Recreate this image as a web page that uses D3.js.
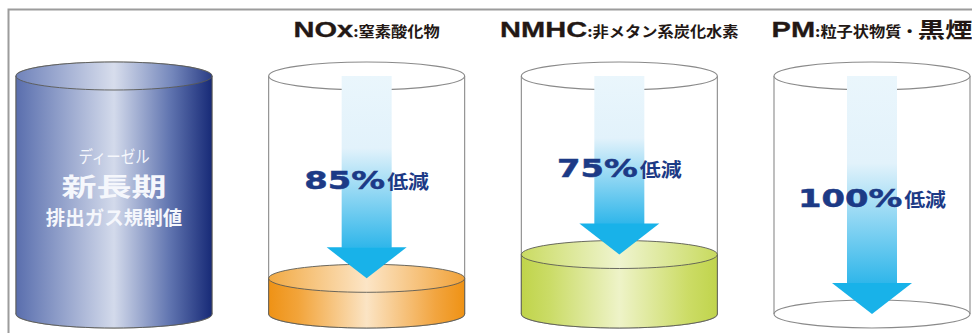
<!DOCTYPE html>
<html>
<head>
<meta charset="utf-8">
<script src="https://cdn.jsdelivr.net/npm/d3@7"></script>
<style>
  body { margin: 0; background: #fff; }
  svg { display: block; }
</style>
</head>
<body>
<div id="chart-area"></div>
<script>
//Data
var categories = ['ディーゼル新長期', 'NOx', 'NMHC', 'PM'];
var titleMain = ['', 'NOx', 'NMHC', 'PM'];
var titleSub = ['', ':窒素酸化物', ':非メタン系炭化水素', ':粒子状物質・'];
var titleExtra = ['', '', '', '黒煙'];
var reduction = [0, 85, 75, 100];          // % reduction from the regulation value
var baseLabel = ['ディーゼル', '新長期', '排出ガス規制値'];

var width = 972, height = 333;
var rx = 98, ry = 14;

//SVG
var svg = d3.select('#chart-area')
    .append('svg')
        .attr('width', width)
        .attr('height', height);
var defs = svg.append('defs');

//X Scale (cylinder centres)
var x = d3.scalePoint()
    .domain(categories)
    .range([114, 872]);

//Y Scale (0 = bottom of cylinder, 100 = brim)
var y = d3.scaleLinear()
    .domain([0, 100])
    .range([314, 76]);

//Gradients
function grad(id, stops, vertical) {
    var g = defs.append('linearGradient')
        .attr('id', id)
        .attr('x1', 0).attr('y1', 0)
        .attr('x2', vertical ? 0 : 1).attr('y2', vertical ? 1 : 0);
    stops.forEach(function(s){
        g.append('stop').attr('offset', s[0]).attr('stop-color', s[1]);
    });
}
grad('blueSide', [[0, '#5a6ead'], [0.08, '#6d80b8'], [0.5, '#d3daeb'], [0.78, '#6276b1'], [1, '#172a77']]);
grad('blueTop', [[0, '#7083bb'], [0.5, '#d7ddec'], [0.8, '#7386bb'], [1, '#2a3d85']]);
grad('orangeSide', [[0, '#ef9215'], [0.15, '#f2a43a'], [0.5, '#fbe4c4'], [0.85, '#f2a540'], [1, '#ef9214']]);
grad('orangeTop', [[0, '#f2aa44'], [0.5, '#fce5c6'], [1, '#f1a238']]);
grad('greenSide', [[0, '#c0d44a'], [0.15, '#cbdc68'], [0.5, '#eef3c8'], [0.85, '#ccdc66'], [1, '#c0d44c']]);
grad('greenTop', [[0, '#cadb62'], [0.5, '#eff4cf'], [1, '#c8da5e']]);
grad('arrowShaft', [[0, '#eaf6fc'], [0.42, '#e2f2fb'], [1, '#2fb6ea']], true);

var fills = [
    {side: 'url(#blueSide)', top: 'url(#blueTop)'},
    {side: 'url(#orangeSide)', top: 'url(#orangeTop)'},
    {side: 'url(#greenSide)', top: 'url(#greenTop)'},
    null
];

//Frame
svg.append('path')
    .attr('d', 'M8.5,333V9.5H972')
    .attr('fill', 'none')
    .attr('stroke', '#9c9c9c')
    .attr('stroke-width', 2);

//Text row helper: lays parts out left to right and centres them
function textRow(parent, cx, baseline, parts) {
    var g = parent.append('g').attr('transform', 'translate(' + cx + ',' + baseline + ')');
    var inner = g.append('g');
    var pos = 0;
    parts.forEach(function(p){
        if (!p.text) return;
        var t = inner.append('text')
            .attr('x', pos)
            .attr('font-family', p.font)
            .attr('font-size', p.size + 'px')
            .attr('font-weight', p.weight || 'bold')
            .attr('fill', p.color)
            .text(p.text);
        if (p.stroke) t.attr('stroke', p.color).attr('stroke-width', p.stroke);
        var w = t.node().getComputedTextLength() * p.sx;
        t.attr('textLength', w).attr('lengthAdjust', 'spacingAndGlyphs');
        pos += w + (p.gap || 0);
    });
    inner.attr('transform', 'translate(' + (-pos / 2) + ',0)');
    return g;
}

var latin = "'Liberation Sans', Arial, sans-serif";
var heavy = "'DejaVu Sans', sans-serif";
var cjk = "'Noto Sans CJK JP', sans-serif";

categories.forEach(function(c, i){
    var cx = x(c);
    var yTop = y(100), yBot = y(0);
    var level = 100 - reduction[i];
    var yLev = y(level);
    var g = svg.append('g').attr('class', 'cylinder');

    //Glass
    g.append('ellipse')
        .attr('cx', cx).attr('cy', yBot).attr('rx', rx).attr('ry', ry)
        .attr('fill', '#fff').attr('stroke', '#8a8a8a').attr('stroke-width', 1.1);
    g.append('path')
        .attr('d', 'M' + (cx - rx) + ',' + yTop + 'V' + yBot + 'M' + (cx + rx) + ',' + yTop + 'V' + yBot)
        .attr('stroke', '#8a8a8a').attr('stroke-width', 1.1);
    g.append('ellipse')
        .attr('cx', cx).attr('cy', yTop).attr('rx', rx).attr('ry', ry)
        .attr('fill', '#fff').attr('stroke', '#8a8a8a').attr('stroke-width', 1.1);

    //Contents
    if (fills[i] && level > 0) {
        g.append('path')
            .attr('d', 'M' + (cx - rx) + ',' + yLev + 'V' + yBot +
                'A' + rx + ',' + ry + ' 0 0 0 ' + (cx + rx) + ',' + yBot +
                'V' + yLev + 'Z')
            .attr('fill', fills[i].side)
            .attr('stroke', '#5a5a55').attr('stroke-width', 0.9);
        g.append('ellipse')
            .attr('cx', cx).attr('cy', yLev).attr('rx', rx).attr('ry', ry)
            .attr('fill', fills[i].top)
            .attr('stroke', '#5a5a55').attr('stroke-width', 0.9);
    }

    //Arrow
    if (reduction[i] > 0) {
        var headH = 31, headW = 40, shaftW = 25;
        g.append('rect')
            .attr('x', cx - shaftW).attr('y', yTop)
            .attr('width', shaftW * 2).attr('height', yLev - headH - yTop + 0.5)
            .attr('fill', 'url(#arrowShaft)');
        g.append('path')
            .attr('d', 'M' + (cx - headW) + ',' + (yLev - headH) + 'H' + (cx + headW) + 'L' + cx + ',' + yLev + 'Z')
            .attr('fill', '#18b2e9');

        textRow(svg, cx, (yTop + yLev) / 2 + 12, [
            {text: reduction[i] + '%', font: heavy, size: 25, sx: 1.35, color: '#1c3a86', stroke: 0.5, gap: 2},
            {text: '低減', font: cjk, size: 19, sx: 1.1, color: '#1c3a86'}
        ]);
    }

    //Title
    if (titleMain[i]) {
        textRow(svg, cx, yTop - 39, [
            {text: titleMain[i], font: latin, size: 22, sx: 1.32, color: '#231815', stroke: 0.3},
            {text: titleSub[i], font: cjk, size: 14.5, sx: 1.12, color: '#231815'},
            {text: titleExtra[i], font: cjk, size: 21, sx: 1.3, color: '#231815'}
        ]);
    }
});

//Label on the regulation cylinder
var c0 = x(categories[0]);
textRow(svg, c0, y(50) - 32, [{text: baseLabel[0], font: cjk, size: 17, weight: 'normal', sx: 0.85, color: '#f5f7fc'}]);
textRow(svg, c0, y(50) + 1, [{text: baseLabel[1], font: cjk, size: 25, sx: 1.4, color: '#f5f7fc'}]);
textRow(svg, c0, y(50) + 30, [{text: baseLabel[2], font: cjk, size: 19.5, sx: 1.0, color: '#f5f7fc'}]);
</script>
</body>
</html>
